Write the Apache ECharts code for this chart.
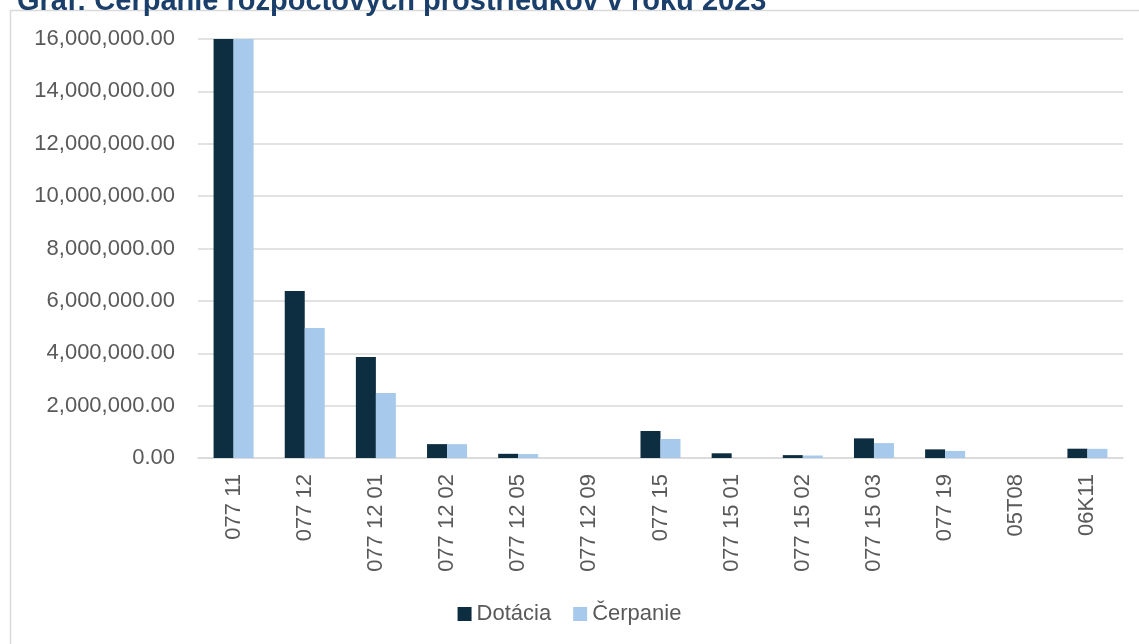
<!DOCTYPE html>
<html>
<head>
<meta charset="utf-8">
<script src="https://cdn.jsdelivr.net/npm/echarts@6/dist/echarts.min.js"></script>
<style>
html,body{margin:0;padding:0;background:#fff;}
#chart{width:1139px;height:644px;}
</style>
</head>
<body>
<div id="chart"></div>
<script>
var titleText = 'Graf: Čerpanie rozpočtových prostriedkov v roku 2023';
var categories = ['077 11','077 12','077 12 01','077 12 02','077 12 05','077 12 09','077 15','077 15 01','077 15 02','077 15 03','077 19','05T08','06K11'];
var dotacia = [16000000, 6380000, 3860000, 530000, 160000, 0, 1030000, 180000, 110000, 750000, 330000, 0, 355000];
var cerpanie = [16000000, 4960000, 2480000, 530000, 150000, 0, 725000, 0, 95000, 570000, 270000, 0, 350000];
var yMin = 0, yMax = 16000000, yStep = 2000000;

var chart = echarts.init(document.getElementById('chart'));
var font = 'Liberation Sans, Arial, sans-serif';
chart.setOption({
  animation: false,
  title: {
    text: titleText,
    left: 12,
    top: -18,
    textStyle: {fontFamily: font, fontSize: 29, fontWeight: 'bold', color: '#1B3F6B'}
  },
  graphic: [{
    type: 'rect', z: -1,
    shape: {x: 10.5, y: 10.5, width: 1140, height: 640},
    style: {fill: '#fff', stroke: '#d9d9d9', lineWidth: 1.5}
  }],
  legend: {
    data: ['Dotácia', 'Čerpanie'],
    left: 'center',
    top: 598,
    itemWidth: 14, itemHeight: 14, itemGap: 22,
    icon: 'rect',
    textStyle: {fontFamily: font, fontSize: 22, color: '#595959'}
  },
  grid: {left: 198, right: 16, top: 39, bottom: 186, containLabel: false},
  xAxis: {
    type: 'category',
    data: categories,
    axisLine: {lineStyle: {color: '#d9d9d9', width: 1.5}},
    axisTick: {show: false},
    axisLabel: {rotate: 90, fontFamily: font, fontSize: 22, color: '#595959', margin: 16, interval: 0}
  },
  yAxis: {
    type: 'value',
    min: yMin, max: yMax, interval: yStep,
    axisLine: {show: false},
    axisTick: {show: false},
    splitLine: {lineStyle: {color: '#d9d9d9', width: 1.5}},
    axisLabel: {
      fontFamily: font, fontSize: 22, color: '#595959', margin: 23,
      formatter: function (v) {
        return v.toLocaleString('en-US', {minimumFractionDigits: 2, maximumFractionDigits: 2});
      }
    }
  },
  series: [
    {name: 'Dotácia', type: 'bar', data: dotacia, barWidth: 20, barGap: '0%',
     itemStyle: {color: '#0D2D40'}},
    {name: 'Čerpanie', type: 'bar', data: cerpanie, barWidth: 20, barGap: '0%',
     itemStyle: {color: '#A7CAEC'}}
  ]
});
</script>
</body>
</html>
